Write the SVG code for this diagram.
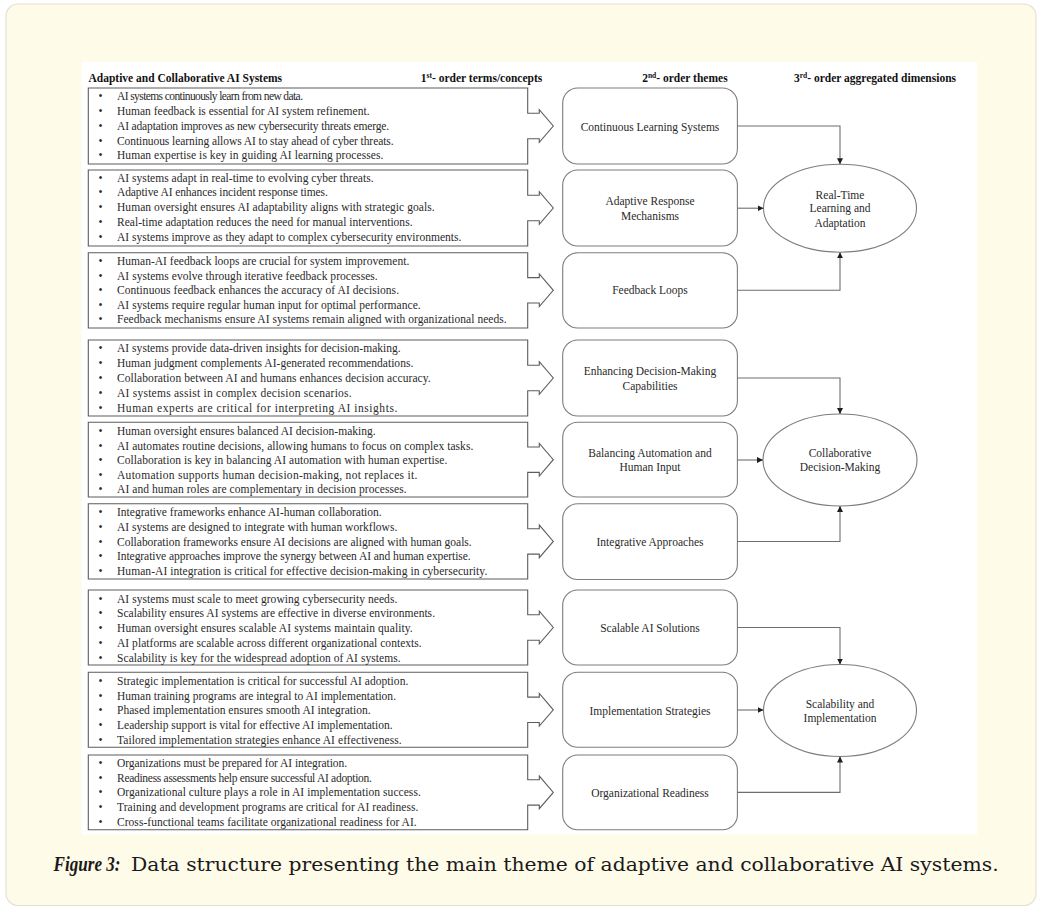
<svg xmlns="http://www.w3.org/2000/svg" width="1041" height="909" viewBox="0 0 1041 909">
<defs>
<style>
.card{fill:#fffbe9;stroke:#e4e1d2;stroke-width:1.2}
.bx{fill:#fff;stroke:#5c5c5c;stroke-width:1.1}
.rb{fill:#fff;stroke:#7d7d7d;stroke-width:1.1}
.el{fill:#fff;stroke:#7d7d7d;stroke-width:1.1}
.cn{fill:none;stroke:#6e6e6e;stroke-width:1.1}
.t{font-family:"Liberation Serif","Times New Roman",serif;font-size:11.5px;fill:#2a2a2a}
.b{text-anchor:middle}
.c{text-anchor:middle}
.h{font-family:"Liberation Serif","Times New Roman",serif;font-size:11.5px;font-weight:bold;fill:#111}
.sup{font-size:7.5px}
.cap{font-family:"DejaVu Serif",serif;font-size:18.5px;fill:#1a1a1a}
.capb{font-family:"Liberation Serif","Times New Roman",serif;font-size:20.5px;font-weight:bold;font-style:italic;fill:#1a1a1a}
</style>
<marker id="ah" viewBox="0 0 6 6" refX="6" refY="3" markerWidth="6" markerHeight="6" markerUnits="userSpaceOnUse" orient="auto">
<path d="M0,0 L6,3 L0,6 Z" fill="#1e1e1e"/>
</marker>
</defs>

<rect class="card" x="6" y="4" width="1030" height="901.5" rx="12"/>
<rect x="81.6" y="62" width="895.6" height="772.5" fill="#fff"/>

<g id="headers">
<text class="h" x="88.5" y="81.5">Adaptive and Collaborative AI Systems</text>
<text class="h" x="420.8" y="81.5">1<tspan class="sup" dy="-4">st</tspan><tspan dy="4">- order terms/concepts</tspan></text>
<text class="h" x="642.2" y="81.5">2<tspan class="sup" dy="-4">nd</tspan><tspan dy="4">- order themes</tspan></text>
<text class="h" x="794" y="81.5">3<tspan class="sup" dy="-4">rd</tspan><tspan dy="4">- order aggregated dimensions</tspan></text>
</g>

<g id="box1">
<path class="bx" d="M88.3,88 H527.7 V113.3 H539.3 V109.7 L553.3,126 L539.3,142.3 V138.7 H527.7 V164 H88.3 Z"/>
<text class="t b" x="100.5" y="100">•</text><text class="t" x="117" y="100" textLength="186" lengthAdjust="spacing">AI systems continuously learn from new data.</text>
<text class="t b" x="100.5" y="114.9">•</text><text class="t" x="117" y="114.9" textLength="252.5" lengthAdjust="spacing">Human feedback is essential for AI system refinement.</text>
<text class="t b" x="100.5" y="129.7">•</text><text class="t" x="117" y="129.7" textLength="272.1" lengthAdjust="spacing">AI adaptation improves as new cybersecurity threats emerge.</text>
<text class="t b" x="100.5" y="144.5">•</text><text class="t" x="117" y="144.5" textLength="276.6" lengthAdjust="spacing">Continuous learning allows AI to stay ahead of cyber threats.</text>
<text class="t b" x="100.5" y="159.2">•</text><text class="t" x="117" y="159.2" textLength="266.3" lengthAdjust="spacing">Human expertise is key in guiding AI learning processes.</text>
</g>

<g id="box2">
<path class="bx" d="M88.3,170 H527.7 V195.3 H539.3 V191.7 L553.3,208 L539.3,224.3 V220.7 H527.7 V246 H88.3 Z"/>
<text class="t b" x="100.5" y="181.5">•</text><text class="t" x="117" y="181.5" textLength="256.6" lengthAdjust="spacing">AI systems adapt in real-time to evolving cyber threats.</text>
<text class="t b" x="100.5" y="196.3">•</text><text class="t" x="117" y="196.3" textLength="210.8" lengthAdjust="spacing">Adaptive AI enhances incident response times.</text>
<text class="t b" x="100.5" y="211">•</text><text class="t" x="117" y="211" textLength="317.6" lengthAdjust="spacing">Human oversight ensures AI adaptability aligns with strategic goals.</text>
<text class="t b" x="100.5" y="225.7">•</text><text class="t" x="117" y="225.7" textLength="295.5" lengthAdjust="spacing">Real-time adaptation reduces the need for manual interventions.</text>
<text class="t b" x="100.5" y="240.5">•</text><text class="t" x="117" y="240.5" textLength="344.4" lengthAdjust="spacing">AI systems improve as they adapt to complex cybersecurity environments.</text>
</g>

<g id="box3">
<path class="bx" d="M88.3,252.7 H527.7 V277.6 H539.3 V274 L553.3,290.3 L539.3,306.6 V303 H527.7 V328 H88.3 Z"/>
<text class="t b" x="100.5" y="265">•</text><text class="t" x="117" y="265" textLength="292.3" lengthAdjust="spacing">Human-AI feedback loops are crucial for system improvement.</text>
<text class="t b" x="100.5" y="279.5">•</text><text class="t" x="117" y="279.5" textLength="260.7" lengthAdjust="spacing">AI systems evolve through iterative feedback processes.</text>
<text class="t b" x="100.5" y="294">•</text><text class="t" x="117" y="294" textLength="282" lengthAdjust="spacing">Continuous feedback enhances the accuracy of AI decisions.</text>
<text class="t b" x="100.5" y="308.5">•</text><text class="t" x="117" y="308.5" textLength="303.7" lengthAdjust="spacing">AI systems require regular human input for optimal performance.</text>
<text class="t b" x="100.5" y="323">•</text><text class="t" x="117" y="323" textLength="389.7" lengthAdjust="spacing">Feedback mechanisms ensure AI systems remain aligned with organizational needs.</text>
</g>

<g id="box4">
<path class="bx" d="M88.3,340 H527.7 V365.3 H539.3 V361.7 L553.3,378 L539.3,394.3 V390.7 H527.7 V416 H88.3 Z"/>
<text class="t b" x="100.5" y="351.8">•</text><text class="t" x="117" y="351.8" textLength="283.7" lengthAdjust="spacing">AI systems provide data-driven insights for decision-making.</text>
<text class="t b" x="100.5" y="366.8">•</text><text class="t" x="117" y="366.8" textLength="296.3" lengthAdjust="spacing">Human judgment complements AI-generated recommendations.</text>
<text class="t b" x="100.5" y="381.8">•</text><text class="t" x="117" y="381.8" textLength="313.7" lengthAdjust="spacing">Collaboration between AI and humans enhances decision accuracy.</text>
<text class="t b" x="100.5" y="396.8">•</text><text class="t" x="117" y="396.8" textLength="234.7" lengthAdjust="spacing">AI systems assist in complex decision scenarios.</text>
<text class="t b" x="100.5" y="411.8">•</text><text class="t" x="117" y="411.8" textLength="280.3" lengthAdjust="spacing">Human experts are critical for interpreting AI insights.</text>
</g>

<g id="box5">
<path class="bx" d="M88.3,422.3 H527.7 V447 H539.3 V443.4 L553.3,459.7 L539.3,476 V472.4 H527.7 V497 H88.3 Z"/>
<text class="t b" x="100.5" y="434.8">•</text><text class="t" x="117" y="434.8" textLength="258.7" lengthAdjust="spacing">Human oversight ensures balanced AI decision-making.</text>
<text class="t b" x="100.5" y="449.5">•</text><text class="t" x="117" y="449.5" textLength="356.3" lengthAdjust="spacing">AI automates routine decisions, allowing humans to focus on complex tasks.</text>
<text class="t b" x="100.5" y="464.2">•</text><text class="t" x="117" y="464.2" textLength="330.3" lengthAdjust="spacing">Collaboration is key in balancing AI automation with human expertise.</text>
<text class="t b" x="100.5" y="478.8">•</text><text class="t" x="117" y="478.8" textLength="300.3" lengthAdjust="spacing">Automation supports human decision-making, not replaces it.</text>
<text class="t b" x="100.5" y="493.4">•</text><text class="t" x="117" y="493.4" textLength="289.7" lengthAdjust="spacing">AI and human roles are complementary in decision processes.</text>
</g>

<g id="box6">
<path class="bx" d="M88.3,503.8 H527.7 V528.7 H539.3 V525.1 L553.3,541.4 L539.3,557.7 V554.1 H527.7 V579 H88.3 Z"/>
<text class="t b" x="100.5" y="516.2">•</text><text class="t" x="117" y="516.2" textLength="264.7" lengthAdjust="spacing">Integrative frameworks enhance AI-human collaboration.</text>
<text class="t b" x="100.5" y="530.8">•</text><text class="t" x="117" y="530.8" textLength="280.3" lengthAdjust="spacing">AI systems are designed to integrate with human workflows.</text>
<text class="t b" x="100.5" y="545.5">•</text><text class="t" x="117" y="545.5" textLength="354.7" lengthAdjust="spacing">Collaboration frameworks ensure AI decisions are aligned with human goals.</text>
<text class="t b" x="100.5" y="560.2">•</text><text class="t" x="117" y="560.2" textLength="353.7" lengthAdjust="spacing">Integrative approaches improve the synergy between AI and human expertise.</text>
<text class="t b" x="100.5" y="574.5">•</text><text class="t" x="117" y="574.5" textLength="370.3" lengthAdjust="spacing">Human-AI integration is critical for effective decision-making in cybersecurity.</text>
</g>

<g id="box7">
<path class="bx" d="M88.3,590 H527.7 V614.8 H539.3 V611.2 L553.3,627.5 L539.3,643.8 V640.2 H527.7 V665 H88.3 Z"/>
<text class="t b" x="100.5" y="602.5">•</text><text class="t" x="117" y="602.5" textLength="280.3" lengthAdjust="spacing">AI systems must scale to meet growing cybersecurity needs.</text>
<text class="t b" x="100.5" y="617.3">•</text><text class="t" x="117" y="617.3" textLength="318" lengthAdjust="spacing">Scalability ensures AI systems are effective in diverse environments.</text>
<text class="t b" x="100.5" y="632">•</text><text class="t" x="117" y="632" textLength="295.7" lengthAdjust="spacing">Human oversight ensures scalable AI systems maintain quality.</text>
<text class="t b" x="100.5" y="646.8">•</text><text class="t" x="117" y="646.8" textLength="304.7" lengthAdjust="spacing">AI platforms are scalable across different organizational contexts.</text>
<text class="t b" x="100.5" y="661.6">•</text><text class="t" x="117" y="661.6" textLength="283.7" lengthAdjust="spacing">Scalability is key for the widespread adoption of AI systems.</text>
</g>

<g id="box8">
<path class="bx" d="M88.3,672.3 H527.7 V697.1 H539.3 V693.5 L553.3,709.8 L539.3,726.1 V722.5 H527.7 V747.3 H88.3 Z"/>
<text class="t b" x="100.5" y="685">•</text><text class="t" x="117" y="685" textLength="291.3" lengthAdjust="spacing">Strategic implementation is critical for successful AI adoption.</text>
<text class="t b" x="100.5" y="699.5">•</text><text class="t" x="117" y="699.5" textLength="279" lengthAdjust="spacing">Human training programs are integral to AI implementation.</text>
<text class="t b" x="100.5" y="714.2">•</text><text class="t" x="117" y="714.2" textLength="253.7" lengthAdjust="spacing">Phased implementation ensures smooth AI integration.</text>
<text class="t b" x="100.5" y="729">•</text><text class="t" x="117" y="729" textLength="275.7" lengthAdjust="spacing">Leadership support is vital for effective AI implementation.</text>
<text class="t b" x="100.5" y="743.7">•</text><text class="t" x="117" y="743.7" textLength="284.7" lengthAdjust="spacing">Tailored implementation strategies enhance AI effectiveness.</text>
</g>

<g id="box9">
<path class="bx" d="M88.3,755 H527.7 V779.7 H539.3 V776.1 L553.3,792.4 L539.3,808.7 V805.1 H527.7 V829.8 H88.3 Z"/>
<text class="t b" x="100.5" y="766.8">•</text><text class="t" x="117" y="766.8" textLength="230.1" lengthAdjust="spacing">Organizations must be prepared for AI integration.</text>
<text class="t b" x="100.5" y="781.6">•</text><text class="t" x="117" y="781.6" textLength="254.9" lengthAdjust="spacing">Readiness assessments help ensure successful AI adoption.</text>
<text class="t b" x="100.5" y="796.3">•</text><text class="t" x="117" y="796.3" textLength="303.8" lengthAdjust="spacing">Organizational culture plays a role in AI implementation success.</text>
<text class="t b" x="100.5" y="811">•</text><text class="t" x="117" y="811" textLength="301.4" lengthAdjust="spacing">Training and development programs are critical for AI readiness.</text>
<text class="t b" x="100.5" y="825.7">•</text><text class="t" x="117" y="825.7" textLength="299.7" lengthAdjust="spacing">Cross-functional teams facilitate organizational readiness for AI.</text>
</g>

<g id="theme1"><rect class="rb" x="562.7" y="88" width="174.7" height="76" rx="15"/>
<text class="t c" x="650" y="130.5">Continuous Learning Systems</text></g>
<g id="theme2"><rect class="rb" x="562.7" y="170" width="174.7" height="76" rx="15"/>
<text class="t c" x="650" y="204.5">Adaptive Response</text><text class="t c" x="650" y="219.8">Mechanisms</text></g>
<g id="theme3"><rect class="rb" x="562.7" y="252.7" width="174.7" height="75.3" rx="15"/>
<text class="t c" x="650" y="294.3">Feedback Loops</text></g>
<g id="theme4"><rect class="rb" x="562.7" y="340" width="174.7" height="76" rx="15"/>
<text class="t c" x="650" y="374.8">Enhancing Decision-Making</text><text class="t c" x="650" y="389.5">Capabilities</text></g>
<g id="theme5"><rect class="rb" x="562.7" y="422.3" width="174.7" height="74.7" rx="15"/>
<text class="t c" x="650" y="456.5">Balancing Automation and</text><text class="t c" x="650" y="470.8">Human Input</text></g>
<g id="theme6"><rect class="rb" x="562.7" y="503.8" width="174.7" height="75.7" rx="15"/>
<text class="t c" x="650" y="546.1">Integrative Approaches</text></g>
<g id="theme7"><rect class="rb" x="562.7" y="590" width="174.7" height="75" rx="15"/>
<text class="t c" x="650" y="631.5">Scalable AI Solutions</text></g>
<g id="theme8"><rect class="rb" x="562.7" y="672.3" width="174.7" height="75" rx="15"/>
<text class="t c" x="650" y="714.5">Implementation Strategies</text></g>
<g id="theme9"><rect class="rb" x="562.7" y="755" width="174.7" height="74.8" rx="15"/>
<text class="t c" x="650" y="796.5">Organizational Readiness</text></g>

<g id="dim1"><ellipse class="el" cx="840" cy="208.2" rx="76.5" ry="44"/>
<text class="t c" x="840" y="198.8">Real-Time</text><text class="t c" x="840" y="212.3">Learning and</text><text class="t c" x="840" y="226.5">Adaptation</text></g>
<g id="dim2"><ellipse class="el" cx="840" cy="460" rx="77" ry="46"/>
<text class="t c" x="840" y="456.5">Collaborative</text><text class="t c" x="840" y="471.1">Decision-Making</text></g>
<g id="dim3"><ellipse class="el" cx="840" cy="710.5" rx="76.5" ry="46"/>
<text class="t c" x="840" y="707.8">Scalability and</text><text class="t c" x="840" y="722.1">Implementation</text></g>

<g id="connectors">
<path class="cn" marker-end="url(#ah)" d="M737.4,126 H840 V164.2"/>
<path class="cn" marker-end="url(#ah)" d="M737.4,208.2 H763.5"/>
<path class="cn" marker-end="url(#ah)" d="M737.4,290.3 H840 V252.2"/>
<path class="cn" marker-end="url(#ah)" d="M737.4,378 H840 V414"/>
<path class="cn" marker-end="url(#ah)" d="M737.4,460 H763"/>
<path class="cn" marker-end="url(#ah)" d="M737.4,541.5 H840 V506"/>
<path class="cn" marker-end="url(#ah)" d="M737.4,627.5 H840 V664.5"/>
<path class="cn" marker-end="url(#ah)" d="M737.4,710 H763.5"/>
<path class="cn" marker-end="url(#ah)" d="M737.4,792.4 H840 V756.5"/>
</g>

<g id="caption">
<text class="capb" x="53.5" y="871" textLength="67" lengthAdjust="spacingAndGlyphs">Figure 3:</text>
<text class="cap" x="131" y="871" textLength="867.6" lengthAdjust="spacingAndGlyphs">Data structure presenting the main theme of adaptive and collaborative AI systems.</text>
</g>
</svg>
